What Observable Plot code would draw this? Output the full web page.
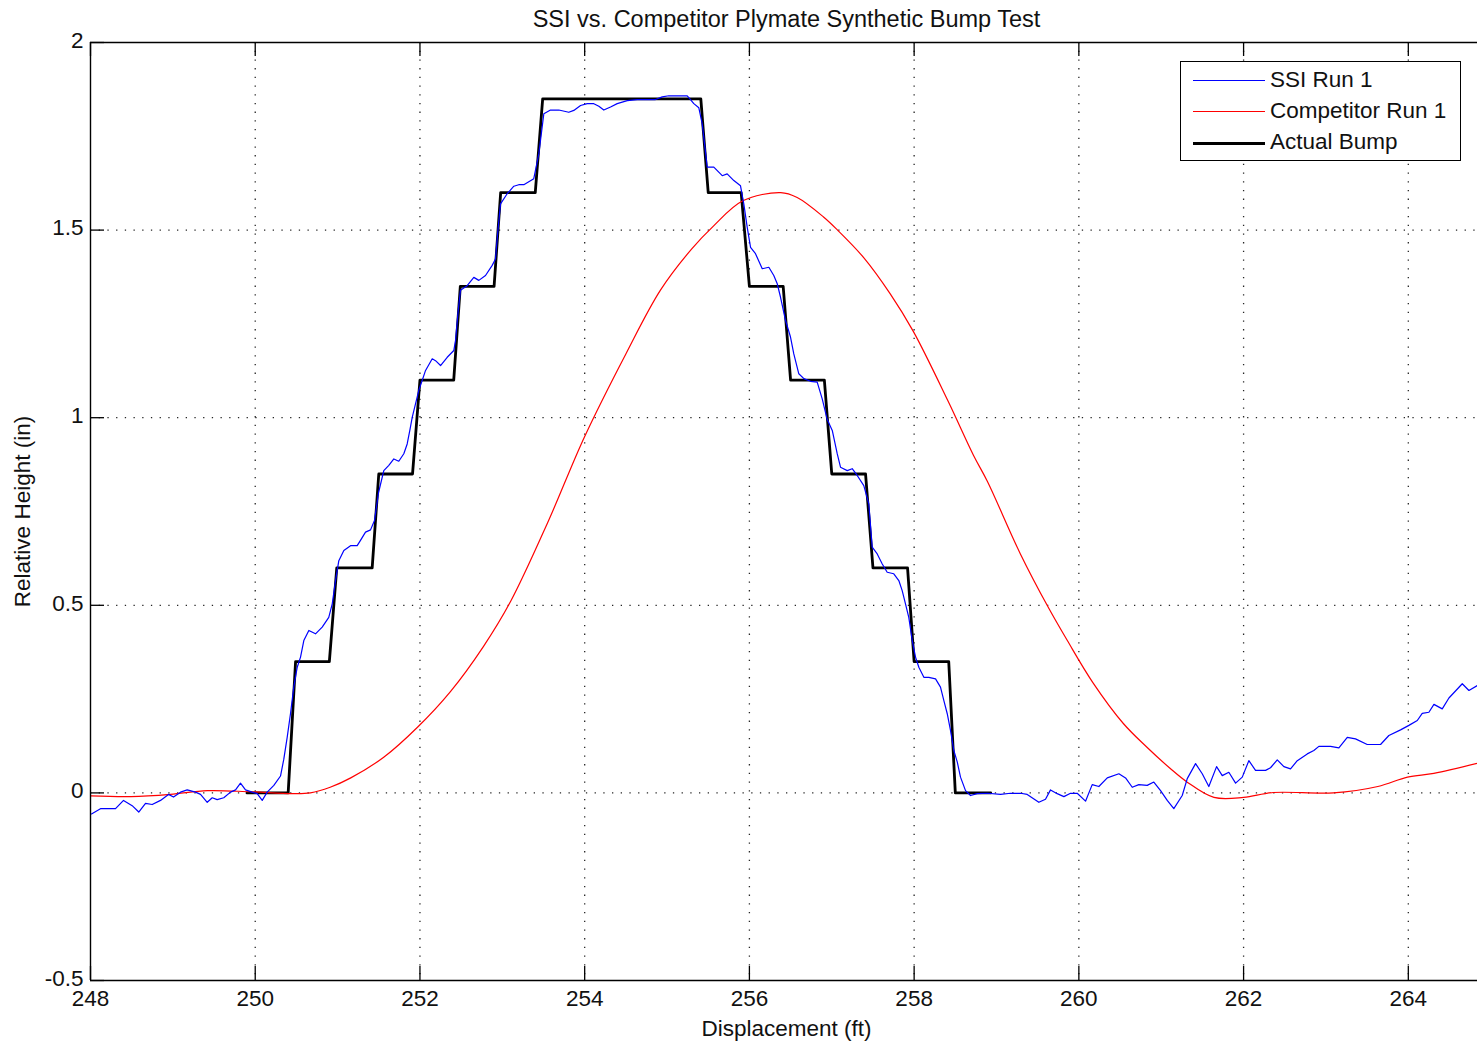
<!DOCTYPE html>
<html><head><meta charset="utf-8">
<script src="https://cdn.jsdelivr.net/npm/d3@7"></script>
<script src="https://cdn.jsdelivr.net/npm/@observablehq/plot@0.6"></script>
<style>
body{margin:0;background:#fff;}
#wrap{position:relative;width:1477px;height:1042px;overflow:hidden;font-family:"Liberation Sans",Arial,sans-serif;}
#legend{position:absolute;left:1180px;top:61px;width:281px;height:100px;border:1.3px solid #000;background:#fff;box-sizing:border-box;}
.item{position:absolute;left:0;width:100%;height:30px;}
.sw{position:absolute;left:12px;width:72px;top:50%;}
.lab{position:absolute;left:89px;top:50%;transform:translateY(-52%);font-size:22.5px;color:#111;white-space:nowrap;}
</style>
</head><body>
<div id="wrap"></div>
<script>
const title = "SSI vs. Competitor Plymate Synthetic Bump Test";
const xLabel = "Displacement (ft)";
const yLabel = "Relative Height (in)";
const xTicks = [248, 250, 252, 254, 256, 258, 260, 262, 264];
const yTicks = [-0.5, 0, 0.5, 1, 1.5, 2];
const seriesNames = ["SSI Run 1", "Competitor Run 1", "Actual Bump"];
const seriesColors = ["#0000ff", "#ff0000", "#000000"];

// Actual Bump (step profile)
const bumpX = [249.9, 250.40, 250.49, 250.90, 250.99, 251.42, 251.50, 251.91, 252.00, 252.41, 252.49, 252.90, 252.98, 253.40, 253.49,
  255.41, 255.50, 255.90, 256.00, 256.41, 256.50, 256.91, 257.00, 257.41, 257.50, 257.92, 258.00, 258.42, 258.50, 258.93];
const bumpY = [0, 0, 0.35, 0.35, 0.6, 0.6, 0.85, 0.85, 1.1, 1.1, 1.35, 1.35, 1.6, 1.6, 1.85,
  1.85, 1.6, 1.6, 1.35, 1.35, 1.1, 1.1, 0.85, 0.85, 0.6, 0.6, 0.35, 0.35, 0, 0];

// Competitor Run 1
const compX = [248.0, 248.49, 248.97, 249.42, 249.94, 250.45, 250.67, 250.91, 251.16, 251.56, 251.97, 252.37, 252.77, 253.10, 253.55,
  254.0, 254.5, 254.92, 255.30, 255.56, 255.92, 256.38, 256.58, 256.90, 257.07, 257.39, 257.71, 257.99, 258.41, 258.72, 258.89,
  259.29, 259.63, 259.86, 260.17, 260.54, 260.83, 261.11, 261.32, 261.64, 262.0, 262.36, 263.09, 263.63, 263.99, 264.31, 264.84];
const compY = [-0.008, -0.010, -0.004, 0.006, 0.003, -0.002, 0.000, 0.015, 0.040, 0.095, 0.175, 0.270, 0.390, 0.510, 0.720,
  0.95, 1.17, 1.34, 1.45, 1.51, 1.578, 1.60, 1.587, 1.535, 1.50, 1.426, 1.33, 1.23, 1.045, 0.90, 0.83,
  0.637, 0.494, 0.406, 0.294, 0.185, 0.121, 0.065, 0.028, -0.012, -0.012, 0.001, 0.000, 0.017, 0.042, 0.052, 0.079];

// SSI Run 1
const ssiX = [248.012, 248.121, 248.203, 248.304, 248.401, 248.506, 248.586, 248.668, 248.749, 248.850, 248.947, 249.008, 249.093, 249.174,
  249.275, 249.336, 249.417, 249.478, 249.538, 249.618, 249.700, 249.761, 249.821, 249.882, 249.963, 250.024, 250.085, 250.145,
  250.226, 250.307, 250.347, 250.388, 250.428, 250.468, 250.510, 250.550, 250.590, 250.651, 250.732, 250.813, 250.893, 250.935,
  250.975, 251.015, 251.076, 251.157, 251.238, 251.278, 251.339, 251.400, 251.448, 251.497, 251.561, 251.622, 251.683, 251.743,
  251.804, 251.845, 251.877, 251.906, 251.946, 251.986, 252.027, 252.068, 252.149, 252.189, 252.250, 252.331, 252.411, 252.432,
  252.462, 252.492, 252.573, 252.654, 252.715, 252.796, 252.877, 252.917, 252.947, 252.978, 253.059, 253.140, 253.200, 253.261,
  253.382, 253.443, 253.504, 253.585, 253.686, 253.807, 253.868, 253.950, 254.031, 254.111, 254.172, 254.232, 254.314, 254.395,
  254.517, 254.638, 254.860, 254.941, 255.022, 255.245, 255.285, 255.325, 255.386, 255.427, 255.488, 255.568, 255.670, 255.730,
  255.811, 255.892, 255.932, 255.973, 256.014, 256.074, 256.156, 256.236, 256.296, 256.338, 256.378, 256.439, 256.499, 256.539,
  256.600, 256.661, 256.742, 256.823, 256.884, 256.945, 257.006, 257.066, 257.106, 257.188, 257.248, 257.309, 257.389, 257.450,
  257.491, 257.552, 257.613, 257.673, 257.753, 257.814, 257.855, 257.895, 257.935, 257.977, 258.017, 258.057, 258.118, 258.178,
  258.260, 258.320, 258.361, 258.402, 258.442, 258.482, 258.524, 258.563, 258.624, 258.685, 258.766, 258.888, 259.049, 259.170,
  259.292, 259.373, 259.514, 259.595, 259.656, 259.737, 259.818, 259.899, 259.980, 260.081, 260.162, 260.243, 260.345, 260.486,
  260.567, 260.648, 260.728, 260.830, 260.910, 260.992, 261.073, 261.153, 261.255, 261.316, 261.417, 261.498, 261.578, 261.672,
  261.741, 261.821, 261.903, 261.984, 262.064, 262.145, 262.267, 262.327, 262.409, 262.489, 262.570, 262.652, 262.773, 262.853,
  262.914, 263.056, 263.157, 263.259, 263.359, 263.501, 263.663, 263.764, 263.906, 264.007, 264.109, 264.169, 264.250, 264.311,
  264.412, 264.493, 264.655, 264.736, 264.837];
const ssiY = [-0.056, -0.042, -0.042, -0.042, -0.020, -0.034, -0.051, -0.028, -0.031, -0.020, -0.004, -0.011, 0.002, 0.008,
  0.002, -0.004, -0.025, -0.013, -0.018, -0.013, 0.002, 0.008, 0.026, 0.008, 0.002, -0.002, -0.020, 0.002,
  0.020, 0.045, 0.090, 0.148, 0.211, 0.282, 0.335, 0.362, 0.406, 0.433, 0.424, 0.442, 0.468, 0.504,
  0.566, 0.619, 0.646, 0.659, 0.659, 0.673, 0.695, 0.701, 0.726, 0.800, 0.859, 0.873, 0.890, 0.884,
  0.904, 0.930, 0.966, 1.001, 1.037, 1.073, 1.099, 1.126, 1.157, 1.152, 1.139, 1.161, 1.179, 1.206,
  1.280, 1.340, 1.352, 1.374, 1.366, 1.379, 1.406, 1.423, 1.500, 1.570, 1.597, 1.617, 1.621, 1.621,
  1.637, 1.703, 1.810, 1.820, 1.820, 1.814, 1.819, 1.832, 1.837, 1.837, 1.830, 1.820, 1.828, 1.837,
  1.845, 1.848, 1.848, 1.855, 1.858, 1.858, 1.848, 1.837, 1.826, 1.783, 1.668, 1.668, 1.645, 1.650,
  1.632, 1.618, 1.570, 1.508, 1.454, 1.437, 1.397, 1.401, 1.379, 1.357, 1.321, 1.259, 1.215, 1.170,
  1.117, 1.104, 1.097, 1.095, 1.050, 0.995, 0.966, 0.904, 0.868, 0.859, 0.864, 0.846, 0.819, 0.770,
  0.655, 0.637, 0.610, 0.588, 0.584, 0.566, 0.539, 0.504, 0.468, 0.406, 0.362, 0.335, 0.308, 0.308,
  0.304, 0.282, 0.246, 0.211, 0.166, 0.113, 0.082, 0.042, 0.006, -0.007, -0.002, -0.001, -0.004, -0.001,
  -0.001, -0.004, -0.025, -0.017, 0.008, -0.002, -0.010, -0.001, -0.001, -0.022, 0.022, 0.017, 0.040, 0.051,
  0.040, 0.015, 0.022, 0.020, 0.029, 0.006, -0.020, -0.042, -0.007, 0.038, 0.078, 0.051, 0.017, 0.070,
  0.046, 0.055, 0.026, 0.042, 0.086, 0.060, 0.060, 0.067, 0.088, 0.070, 0.064, 0.086, 0.104, 0.113,
  0.124, 0.124, 0.120, 0.148, 0.144, 0.129, 0.129, 0.153, 0.168, 0.180, 0.193, 0.212, 0.215, 0.236,
  0.224, 0.253, 0.291, 0.273, 0.286];

const bump = bumpX.map((x, i) => ({x, y: bumpY[i]}));
const comp = compX.map((x, i) => ({x, y: compY[i]}));
const ssi = ssiX.map((x, i) => ({x, y: ssiY[i]}));

const W = 1477, H = 1042, mL = 90, mR = 0, mT = 42, mB = 62;
const frameH = H - mT - mB, frameW = W - mL - mR;
const tick = 14;
const fs = 22.5;
const font = "Liberation Sans, Arial, sans-serif";
const dots = {stroke: "#000", strokeOpacity: 0.85, strokeWidth: 1.3, strokeDasharray: "1.3,7.4"};

const chart = Plot.plot({
  width: W, height: H,
  marginLeft: mL, marginRight: mR, marginTop: mT, marginBottom: mB,
  x: {domain: [248, 264.84]},
  y: {domain: [-0.5, 2]},
  style: {fontFamily: font, fontSize: fs + "px", background: "#fff", color: "#111"},
  marks: [
    Plot.gridX(xTicks.slice(1), dots),
    Plot.gridY(yTicks.slice(1, -1), dots),
    Plot.line(bump, {x: "x", y: "y", stroke: seriesColors[2], strokeWidth: 2.8, clip: true}),
    Plot.line(comp, {x: "x", y: "y", stroke: seriesColors[1], strokeWidth: 1.2, curve: "catmull-rom", clip: true}),
    Plot.line(ssi, {x: "x", y: "y", stroke: seriesColors[0], strokeWidth: 1.2, clip: true}),
    Plot.ruleX([248], {stroke: "#000", strokeWidth: 1.4}),
    Plot.ruleY([-0.5, 2], {stroke: "#000", strokeWidth: 1.4}),
    Plot.tickX(xTicks, {x: d => d, insetTop: frameH - tick, stroke: "#000", strokeWidth: 1.3}),
    Plot.tickX(xTicks, {x: d => d, insetBottom: frameH - tick, stroke: "#000", strokeWidth: 1.3}),
    Plot.tickY(yTicks, {y: d => d, insetRight: frameW - tick, stroke: "#000", strokeWidth: 1.3}),
    Plot.axisX(xTicks, {anchor: "bottom", tickSize: 0, tickPadding: 10, label: null, tickFormat: d => String(d), fontSize: fs}),
    Plot.axisY(yTicks, {anchor: "left", tickSize: 0, tickPadding: 7, dy: -2, label: null, tickFormat: d => String(d), fontSize: fs}),
    Plot.text([xLabel], {frameAnchor: "bottom", lineAnchor: "middle", dy: 48, dx: 2.5, fontSize: fs, fill: "#111"}),
    Plot.text([yLabel], {frameAnchor: "left", textAnchor: "middle", lineAnchor: "middle", rotate: -90, dx: -68, fontSize: fs, fill: "#111"}),
    Plot.text([title], {frameAnchor: "top", lineAnchor: "middle", dy: -23, dx: 2.5, fontSize: 23.5, fill: "#111"})
  ]
});

const wrap = document.getElementById("wrap");
wrap.appendChild(chart);

// Legend
const legend = document.createElement("div");
legend.id = "legend";
seriesNames.forEach((name, i) => {
  const item = document.createElement("div");
  item.className = "item";
  item.style.top = (4 + i * 31) + "px";
  const sw = document.createElement("div");
  sw.className = "sw";
  const lw = i === 2 ? 3 : 1.3;
  sw.style.borderTop = lw + "px solid " + seriesColors[i];
  sw.style.marginTop = (-lw / 2) + "px";
  const lab = document.createElement("div");
  lab.className = "lab";
  lab.textContent = name;
  item.appendChild(sw);
  item.appendChild(lab);
  legend.appendChild(item);
});
wrap.appendChild(legend);
</script>
</body></html>
